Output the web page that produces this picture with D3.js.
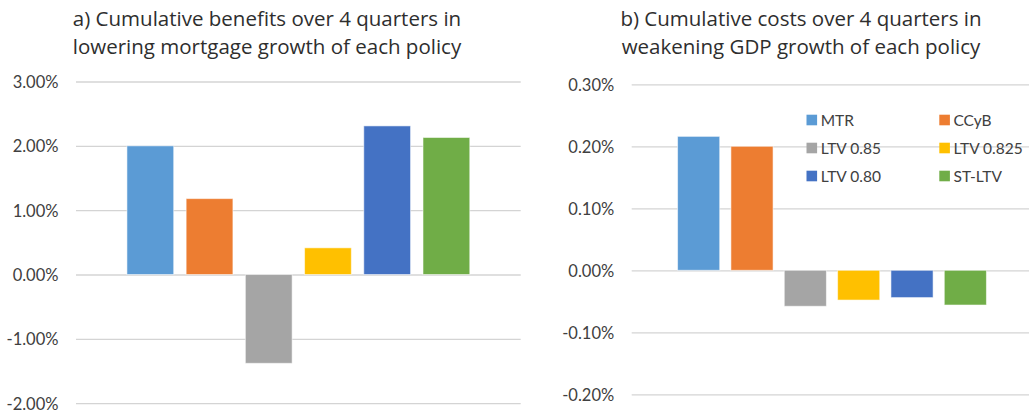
<!DOCTYPE html>
<html>
<head>
<meta charset="utf-8">
<script src="https://cdn.jsdelivr.net/npm/d3@7"></script>
<style>
  html, body { margin: 0; padding: 0; background: #fff; overflow: hidden; }
  svg { display: block; font-family: Lato, "Open Sans", sans-serif; }
</style>
</head>
<body>
<svg id="chart" width="1029" height="413"></svg>
<script>
// ---------- data ----------
const series = ["MTR", "CCyB", "LTV 0.85", "LTV 0.825", "LTV 0.80", "ST-LTV"];
const colors = ["#5B9BD5", "#ED7D31", "#A5A5A5", "#FFC000", "#4472C4", "#70AD47"];
const benefits = [0.0200, 0.0118, -0.0138, 0.00415, 0.0231, 0.0213];
const costs = [0.00216, 0.00200, -0.00058, -0.00048, -0.00044, -0.00056];
const benefitTicks = [-0.02, -0.01, 0, 0.01, 0.02, 0.03];
const benefitTickLabels = ["-2.00%", "-1.00%", "0.00%", "1.00%", "2.00%", "3.00%"];
const costTicks = [-0.002, -0.001, 0, 0.001, 0.002, 0.003];
const costTickLabels = ["-0.20%", "-0.10%", "0.00%", "0.10%", "0.20%", "0.30%"];
const titleA = ["a) Cumulative benefits over 4 quarters in", "lowering mortgage growth of each policy"];
const titleB = ["b) Cumulative costs over 4 quarters in", "weakening GDP growth of each policy"];

// ---------- layout ----------
const svg = d3.select("#chart");

function panel(cfg) {
  const g = svg.append("g");
  const y = d3.scaleLinear().domain(cfg.domain).range([cfg.yBottom, cfg.yTop]);
  const x = d3.scaleBand().domain(series).range([cfg.x0, cfg.x1])
    .paddingInner(0.21).paddingOuter(0.86);

  // title
  const t = g.append("text")
    .attr("text-anchor", "middle")
    .attr("fill", "#2e2e2e")
    .attr("font-family", "'Open Sans', Lato, sans-serif")
    .attr("font-size", 20.5);
  cfg.title.forEach((line, i) => {
    t.append("tspan").attr("x", cfg.titleX).attr("y", 26 + i * 28).text(line);
  });

  // axis + gridlines
  const labelMap = new Map(cfg.ticks.map((v, i) => [v, cfg.tickLabels[i]]));
  const axis = d3.axisLeft(y)
    .tickValues(cfg.ticks)
    .tickFormat(d => labelMap.get(d))
    .tickSizeInner(-(cfg.x1 - cfg.x0))
    .tickSizeOuter(0)
    .tickPadding(17.5);
  const ag = g.append("g").attr("transform", `translate(${cfg.x0},0)`).call(axis);
  ag.select(".domain").remove();
  ag.selectAll(".tick line").attr("stroke", "#d4d4d4").attr("stroke-width", 1.3);
  ag.selectAll(".tick text")
    .attr("fill", "#404040")
    .attr("font-size", 16.5)
    .attr("font-family", "Lato, 'Open Sans', sans-serif")
    .attr("dy", "0.36em");

  // bars
  g.append("g").selectAll("rect")
    .data(cfg.values.map((v, i) => ({ s: series[i], v, c: colors[i] })))
    .join("rect")
    .attr("x", d => x(d.s))
    .attr("width", x.bandwidth())
    .attr("y", d => y(Math.max(0, d.v)))
    .attr("height", d => Math.abs(y(d.v) - y(0)))
    .attr("fill", d => d.c)
    .attr("stroke", "rgba(255,255,255,0.55)")
    .attr("stroke-width", 1);
  return g;
}

panel({
  title: titleA, titleX: 267,
  domain: [-0.02, 0.03], yBottom: 403.2, yTop: 81.5,
  x0: 76, x1: 520.7,
  ticks: benefitTicks, tickLabels: benefitTickLabels,
  values: benefits
});

panel({
  title: titleB, titleX: 801,
  domain: [-0.002, 0.003], yBottom: 394.3, yTop: 84.3,
  x0: 631.7, x1: 1032.3,
  ticks: costTicks, tickLabels: costTickLabels,
  values: costs
});

// legend (two columns, three rows)
const legend = svg.append("g").attr("transform", "translate(806.5,120)");
const items = legend.selectAll("g")
  .data(series.map((s, i) => ({ s, c: colors[i], col: i % 2, row: Math.floor(i / 2) })))
  .join("g")
  .attr("transform", d => `translate(${d.col * 132.8},${d.row * 28})`);
items.append("rect")
  .attr("x", 0).attr("y", -5.3)
  .attr("width", 10.6).attr("height", 10.6)
  .attr("fill", d => d.c);
items.append("text")
  .attr("x", 14.2).attr("dy", "0.36em")
  .attr("fill", "#404040")
  .attr("font-size", 15.5)
  .text(d => d.s);
</script>
</body>
</html>
